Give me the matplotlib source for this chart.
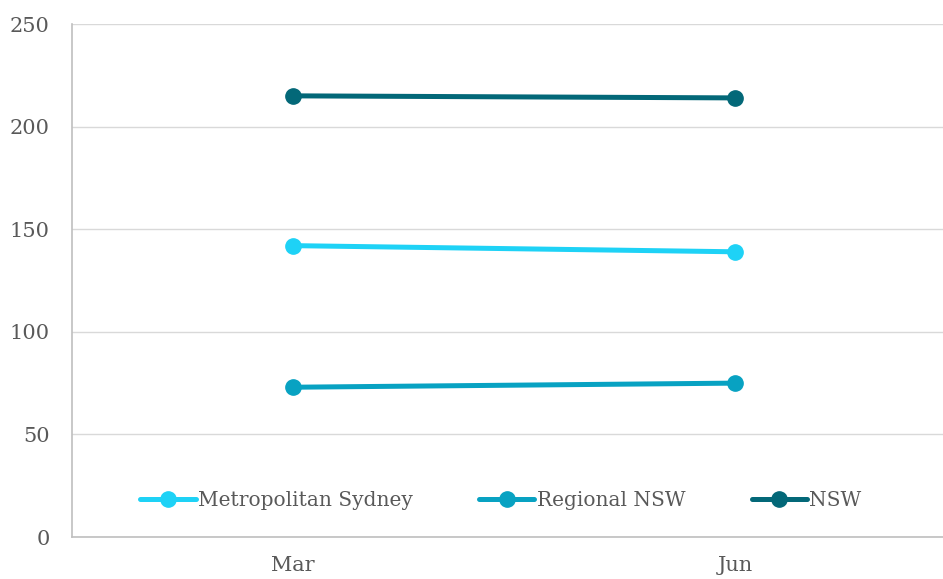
import matplotlib
matplotlib.use("Agg")
import matplotlib.pyplot as plt

months = ["Mar", "Jun"]
metro_sydney = [142, 139]
regional_nsw = [73, 75]
nsw_total = [215, 214]
series_names = ["Metropolitan Sydney", "Regional NSW", "NSW"]
y_ticks = [0, 50, 100, 150, 200, 250]

plt.rcParams['font.family'] = ['DejaVu Serif']

fig = plt.figure(figsize=(9.43, 5.79), dpi=100)
ax = fig.add_axes([0.0764, 0.0725, 0.9375, 0.886])

colors = ['#1ed2f6', '#08a2c2', '#036878']
x = list(range(len(months)))
for vals, name, c in zip([metro_sydney, regional_nsw, nsw_total], series_names, colors):
    ax.plot(x, vals, color=c, lw=3.6, marker='o', markersize=11, label=name,
            solid_capstyle='round')

ax.set_xlim(-0.5, 1.5)
ax.set_ylim(0, 250)
ax.set_xticks(x)
ax.set_xticklabels(months)
ax.set_yticks(y_ticks)
ax.tick_params(length=0, labelsize=15, colors='#595959')
ax.tick_params(axis='x', pad=14)
ax.tick_params(axis='y', pad=16)
ax.grid(axis='y', color='#d9d9d9', lw=1)
ax.set_axisbelow(True)
for s in ['top', 'right']:
    ax.spines[s].set_visible(False)
for s in ['left', 'bottom']:
    ax.spines[s].set_color('#bfbfbf')
    ax.spines[s].set_linewidth(1.2)

leg = ax.legend(loc='center', bbox_to_anchor=(0.485, 0.072), ncol=3, frameon=False,
                fontsize=14.5, handlelength=2.75, handletextpad=0.1, columnspacing=3.3)
for t in leg.get_texts():
    t.set_color('#595959')

fig.savefig('out.png', dpi=100)
